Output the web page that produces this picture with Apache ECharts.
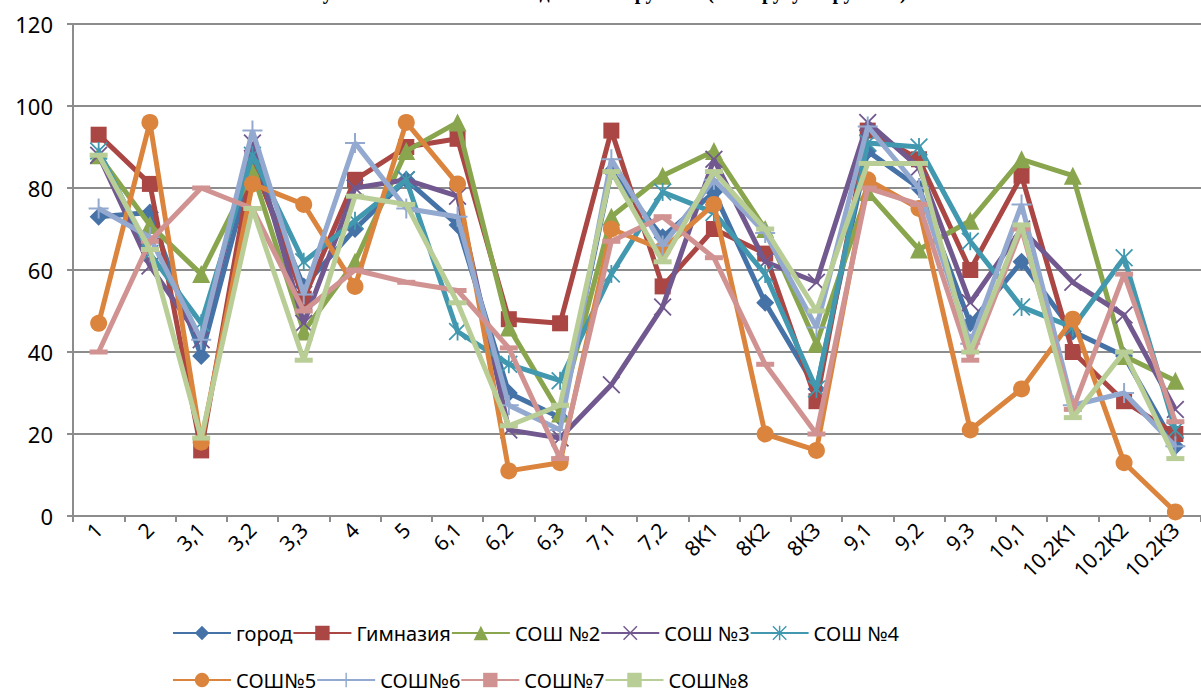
<!DOCTYPE html>
<html>
<head>
<meta charset="utf-8">
<script src="https://cdn.jsdelivr.net/npm/echarts@6/dist/echarts.min.js"></script>
<style>
  html, body { margin: 0; padding: 0; background: #fff; }
  #chart { width: 1201px; height: 690px; }
</style>
</head>
<body>
<div id="chart"></div>
<script>
// категории (задания)
const categories = ['1', '2', '3,1', '3,2', '3,3', '4', '5', '6,1', '6,2', '6,3', '7,1', '7,2',
  '8K1', '8K2', '8K3', '9,1', '9,2', '9,3', '10,1', '10.2K1', '10.2K2', '10.2K3']
const yTicks = [0, 20, 40, 60, 80, 100, 120]

// значения по сериям
const gorod = [73, 74, 39, 86, 56, 70, 82, 71, 30, 24, 84, 68, 79, 52, 31, 89, 80, 47, 62, 45, 39, 17]
const gimnaziya = [93, 81, 16, 87, 53, 82, 90, 92, 48, 47, 94, 56, 70, 64, 28, 94, 87, 60, 83, 40, 28, 20]
const sosh2 = [88, 71, 59, 84, 45, 62, 89, 96, 46, 25, 73, 83, 89, 70, 42, 79, 65, 72, 87, 83, 39, 33]
const sosh3 = [88, 61, 43, 91, 47, 80, 82, 78, 21, 19, 32, 51, 87, 62, 57, 96, 85, 52, 70, 57, 49, 26]
const sosh4 = [89, 64, 47, 88, 62, 72, 82, 45, 37, 33, 59, 79, 74, 59, 31, 91, 90, 67, 51, 46, 63, 21]
const sosh5 = [47, 96, 18, 81, 76, 56, 96, 81, 11, 13, 70, 65, 76, 20, 16, 82, 75, 21, 31, 48, 13, 1]
const sosh6 = [75, 68, 43, 94, 54, 91, 75, 73, 27, 21, 87, 66, 82, 69, 46, 95, 80, 42, 76, 27, 30, 17]
const sosh7 = [40, 67, 80, 75, 50, 60, 57, 55, 41, 14, 67, 73, 63, 37, 20, 80, 76, 38, 70, 26, 59, 23]
const sosh8 = [88, 65, 19, 75, 38, 78, 76, 52, 22, 27, 84, 62, 84, 70, 50, 86, 86, 40, 71, 24, 40, 14]

const seriesNames = ['город', 'Гимназия', 'СОШ №2', 'СОШ №3', 'СОШ №4', 'СОШ№5', 'СОШ№6', 'СОШ№7', 'СОШ№8']
const seriesColors = ['#4572A7', '#AA4643', '#89A54E', '#71588F', '#4198AF', '#DB843D', '#93A9CF', '#D19392', '#B9CD96']
const seriesValues = [gorod, gimnaziya, sosh2, sosh3, sosh4, sosh5, sosh6, sosh7, sosh8]

// маркеры как в Excel
const X_PATH = 'path://M0,1.4L1.4,0L10,8.6L18.6,0L20,1.4L11.4,10L20,18.6L18.6,20L10,11.4L1.4,20L0,18.6L8.6,10Z'
const STAR_PATH = X_PATH + 'M9,0h2v20h-2z'
const PLUS_PATH = 'path://M9,0h2v9h9v2h-9v9h-2v-9h-9v-2h9z'
const seriesSymbols = ['diamond', 'rect', 'triangle', X_PATH, STAR_PATH, 'circle', PLUS_PATH, 'rect', 'rect']
const seriesSymbolSizes = [18, 16, 18, 18, 18, 17, 20, [18, 5], [18, 5]]

const LINE_WIDTH = 5
const labelFont = '"Liberation Sans Narrow", "Noto Sans", sans-serif'
const axisGray = '#8c8c8c'

function legendBlock (top, names) {
  return {
    left: 167,
    top: top,
    itemWidth: 58,
    itemHeight: 18,
    itemGap: 0,
    textStyle: {
      color: '#000',
      fontSize: 20,
      fontFamily: labelFont,
      width: 112,
      overflow: 'truncate'
    },
    data: names
  }
}

let series = seriesNames.map(function (name, i) {
  return {
    name: name,
    type: 'line',
    data: seriesValues[i],
    symbol: seriesSymbols[i],
    symbolSize: seriesSymbolSizes[i],
    lineStyle: { width: LINE_WIDTH, color: seriesColors[i] },
    itemStyle: { color: seriesColors[i] },
    z: 2 + i
  }
})

let option = {
  animation: false,
  color: seriesColors,
  title: {
    text: 'Результаты выполнения заданий по группам (по округу и группам)',
    left: 'center',
    top: -18,
    padding: 0,
    textStyle: {
      fontFamily: '"Liberation Serif", serif',
      fontWeight: 'bold',
      fontSize: 20,
      color: '#000'
    }
  },
  legend: [
    legendBlock(618, seriesNames.slice(0, 5)),
    legendBlock(665, seriesNames.slice(5))
  ],
  grid: {
    left: 73,
    right: 0,
    top: 24,
    bottom: 174
  },
  xAxis: {
    type: 'category',
    data: categories,
    axisLine: { lineStyle: { color: axisGray, width: 2 } },
    axisTick: { show: true, length: 6, lineStyle: { color: axisGray, width: 2 } },
    axisLabel: {
      interval: 0,
      rotate: 45,
      margin: 10,
      color: '#000',
      fontSize: 21,
      fontFamily: labelFont
    }
  },
  yAxis: {
    type: 'value',
    min: yTicks[0],
    max: yTicks[yTicks.length - 1],
    interval: 20,
    axisLine: { show: true, lineStyle: { color: axisGray, width: 2 } },
    axisTick: { show: true, length: 6, lineStyle: { color: axisGray, width: 2 } },
    splitLine: { lineStyle: { color: axisGray, width: 2 } },
    axisLabel: {
      margin: 20,
      color: '#000',
      fontSize: 22,
      fontFamily: labelFont
    }
  },
  series: series
}

// svg-рендер: толщина линий в canvas почему-то терялась
let chart = echarts.init(document.getElementById('chart'), null, { renderer: 'svg' })
chart.setOption(option)
</script>
</body>
</html>
